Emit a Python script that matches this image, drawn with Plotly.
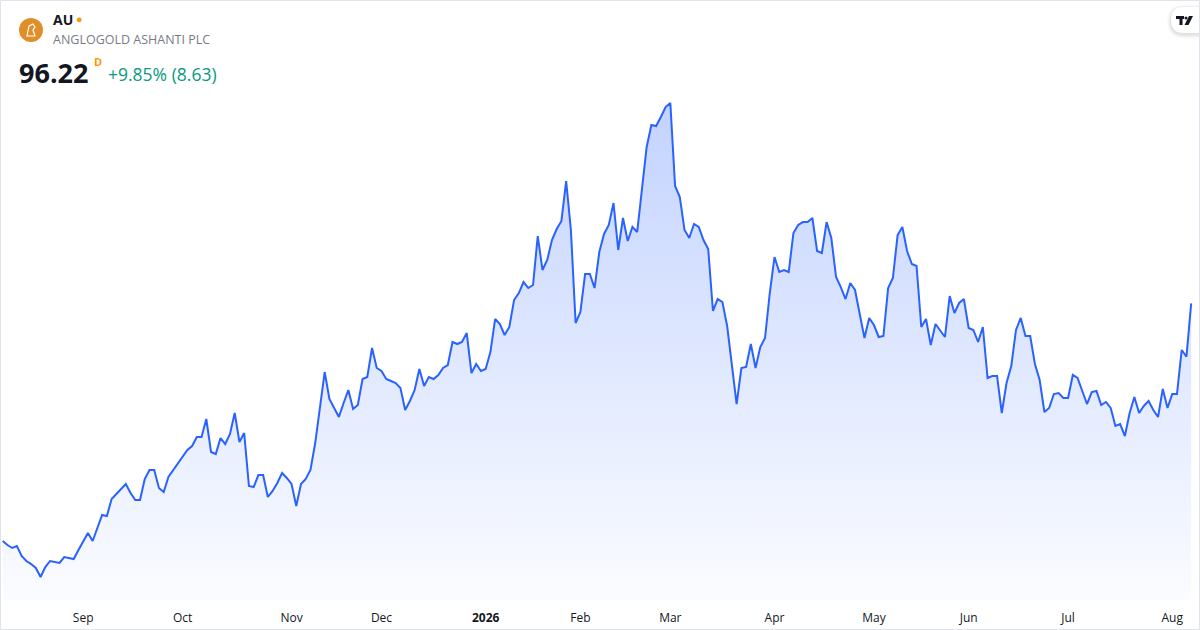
import pandas as pd
import plotly.graph_objects as go

# daily closes, AU (AngloGold Ashanti), Aug 7 2025 -> Aug 7 2026
prices = [
    57.82, 57.17, 56.69, 57.01, 55.40, 54.59, 54.10, 53.46, 52.00, 53.62,
    54.59, 54.43, 54.27, 55.23, 55.07, 54.91, 56.37, 57.82, 59.11, 57.82,
    59.76, 62.02, 61.86, 64.60, 65.41, 66.22, 67.03, 65.57, 64.44, 64.44,
    67.84, 69.29, 69.29, 66.38, 65.74, 68.16, 69.29, 70.26, 71.55, 72.52,
    73.17, 74.62, 74.62, 77.53, 72.20, 71.87, 74.46, 73.49, 75.11, 78.50,
    73.81, 75.27, 66.70, 66.54, 68.48, 68.48, 64.93, 65.90, 67.19, 68.80,
    68.00, 67.03, 63.47, 67.03, 67.84, 69.29, 73.65, 78.98, 85.12, 80.76,
    79.31, 77.85, 80.11, 82.21, 79.14, 79.79, 83.99, 84.31, 89.00, 85.77,
    85.28, 83.99, 83.67, 83.34, 82.54, 78.98, 80.44, 82.21, 85.61, 82.86,
    84.31, 83.99, 84.64, 85.77, 86.25, 89.97, 89.64, 89.97, 91.42, 84.96,
    86.41, 85.28, 85.61, 88.35, 93.68, 92.88, 91.10, 92.39, 96.75, 97.88,
    99.66, 98.69, 99.18, 107.09, 101.60, 103.22, 106.45, 108.22, 109.52, 115.98,
    108.06, 93.04, 94.81, 100.95, 100.95, 98.69, 104.51, 107.42, 108.87, 112.42,
    104.83, 110.00, 106.28, 108.55, 107.74, 114.52, 121.47, 125.02, 124.86, 126.32,
    127.93, 128.58, 115.17, 113.39, 108.06, 106.77, 109.03, 108.55, 106.45, 104.99,
    94.98, 96.91, 96.43, 92.55, 86.09, 79.95, 85.77, 85.93, 89.64, 85.77,
    89.16, 90.61, 97.88, 103.70, 101.28, 101.60, 101.28, 107.58, 108.87, 109.35,
    109.35, 110.00, 104.67, 104.35, 109.35, 106.77, 100.47, 98.85, 96.91, 99.50,
    98.37, 94.33, 90.61, 93.85, 92.71, 90.78, 90.94, 98.69, 100.31, 107.25,
    108.55, 104.67, 102.57, 102.25, 92.39, 93.68, 89.48, 92.88, 91.75, 90.78,
    97.40, 94.65, 96.27, 96.91, 92.23, 91.91, 89.97, 92.39, 84.15, 84.48,
    84.48, 78.50, 83.34, 86.09, 91.91, 93.85, 90.94, 90.94, 86.41, 83.83,
    78.66, 79.31, 81.57, 81.73, 80.92, 80.92, 84.64, 84.15, 82.05, 79.95,
    81.89, 82.05, 79.79, 80.28, 79.31, 76.40, 76.72, 74.78, 78.50, 81.08,
    78.50, 79.63, 80.44, 78.98, 77.85, 82.38, 79.31, 81.57, 81.57, 88.68,
    87.59, 96.22,
]

holidays = ['2025-09-01', '2025-11-27', '2025-12-25', '2026-01-01', '2026-01-19',
            '2026-02-16', '2026-04-03', '2026-05-25', '2026-06-19', '2026-07-03']
dates = pd.bdate_range('2025-08-07', '2026-08-07')
dates = dates[~dates.isin(pd.to_datetime(holidays))]

month_labels = ['Sep', 'Oct', 'Nov', 'Dec', '<b>2026</b>', 'Feb', 'Mar',
                'Apr', 'May', 'Jun', 'Jul', 'Aug']

# first trading day of each month -> tick position
s = pd.Series(range(len(dates)), index=dates)
firsts = s.groupby([dates.year, dates.month]).min().tolist()[1:]

idx = list(range(len(prices)))

W, H = 1200, 630
PLOT_B = 600  # bottom of the plot area in px


def px(x):
    return x / W


def py(y):
    return (PLOT_B - y) / PLOT_B


def path(pts):
    return 'M ' + ' L '.join(f'{px(a):.5f},{py(b):.5f}' for a, b in pts) + ' Z'


def pill(x0, x1, y0, y1):
    # rounded on the left, square on the right
    r = (y1 - y0) / 2
    p = lambda a, b: f'{px(a):.5f},{py(b):.5f}'
    return (f'M {p(x1, y0)} L {p(x0 + r, y0)} Q {p(x0, y0)} {p(x0, y0 + r)} '
            f'Q {p(x0, y1)} {p(x0 + r, y1)} L {p(x1, y1)} Z')


y_lo, y_hi = 48.29, 145.22

fig = go.Figure()
fig.add_trace(go.Scatter(
    x=idx, y=prices,
    mode='lines',
    line=dict(color='#2962FF', width=2),
    fill='tozeroy',
    fillgradient=dict(
        type='vertical',
        colorscale=[[0, 'rgba(41,98,255,0.02)'], [1, 'rgba(41,98,255,0.28)']],
        start=y_lo, stop=max(prices),
    ),
    hoverinfo='skip',
    showlegend=False,
))

fig.update_layout(
    width=W, height=H,
    margin=dict(l=0, r=0, t=0, b=H - PLOT_B),
    paper_bgcolor='white',
    plot_bgcolor='white',
    font=dict(family='Open Sans', color='#131722'),
    xaxis=dict(
        range=[-0.57, -0.57 + 1200 / 4.735],
        tickmode='array', tickvals=firsts, ticktext=month_labels,
        showgrid=False, zeroline=False, showline=False,
        ticks='outside', ticklen=7, tickcolor='rgba(0,0,0,0)',
        tickfont=dict(size=12, color='#131722', family='Open Sans'),
        fixedrange=True,
    ),
    yaxis=dict(
        range=[y_lo, y_hi], visible=False, showgrid=False, fixedrange=True,
    ),
)

# widget frame
fig.add_shape(type='rect', xref='paper', yref='paper',
              x0=px(0.5), x1=px(1199.5), y0=py(629.5), y1=py(0.5),
              line=dict(color='#E0E3EB', width=1), layer='above')

# logo
fig.add_shape(type='circle', xref='paper', yref='paper',
              x0=px(19), x1=px(43), y0=py(42), y1=py(18),
              fillcolor='#E08E2A', line=dict(width=0))
fig.add_shape(type='path', xref='paper', yref='paper',
              path=path([(27, 36), (29, 26), (33, 24), (35, 27), (33, 30),
                         (35, 36)]),
              fillcolor='rgba(0,0,0,0)', line=dict(color='white', width=1.2))

header = [
    (51, 20, '<b>AU</b>', 14, '#131722'),
    (74, 19, '●', 11, '#FF9800'),
    (51, 40, 'ANGLOGOLD ASHANTI PLC', 12.5, '#787B86'),
    (17, 72, '<b>96.22</b>', 27, '#131722'),
    (92, 61, '<b>D</b>', 11, '#FF9800'),
    (106, 74, '+9.85% (8.63)', 17.5, '#089981'),
]
for x, y, t, sz, c in header:
    fig.add_annotation(x=px(x), y=py(y), xref='paper', yref='paper', text=t,
                       xanchor='left', yanchor='middle', showarrow=False,
                       font=dict(size=sz, color=c, family='Open Sans'))

# TradingView badge: soft shadow + white pill
for d, col in [(4, 'rgba(0,0,0,0.025)'), (2.5, 'rgba(0,0,0,0.04)'),
               (1, 'rgba(0,0,0,0.05)')]:
    fig.add_shape(type='path', xref='paper', yref='paper',
                  path=pill(1171 - d, 1199, 7 - d + 1.5, 33 + d + 1.5),
                  fillcolor=col, line=dict(width=0))
fig.add_shape(type='path', xref='paper', yref='paper',
              path=pill(1171, 1199, 7, 33),
              fillcolor='white', line=dict(width=0))
# logo glyph
fig.add_shape(type='path', xref='paper', yref='paper',
              path=path([(1176, 16), (1184, 16), (1184, 19), (1182.5, 19),
                         (1182.5, 25), (1179.5, 25), (1179.5, 19), (1176, 19)]),
              fillcolor='#131722', line=dict(width=0))
fig.add_shape(type='circle', xref='paper', yref='paper',
              x0=px(1184.5), x1=px(1187.5), y0=py(19.5), y1=py(16.5),
              fillcolor='#131722', line=dict(width=0))
fig.add_shape(type='path', xref='paper', yref='paper',
              path=path([(1189, 16), (1193, 16), (1188.5, 25), (1184.5, 25)]),
              fillcolor='#131722', line=dict(width=0))

fig.write_html('out.html', config={'displayModeBar': False},
               post_script="document.body.style.margin='0';")
